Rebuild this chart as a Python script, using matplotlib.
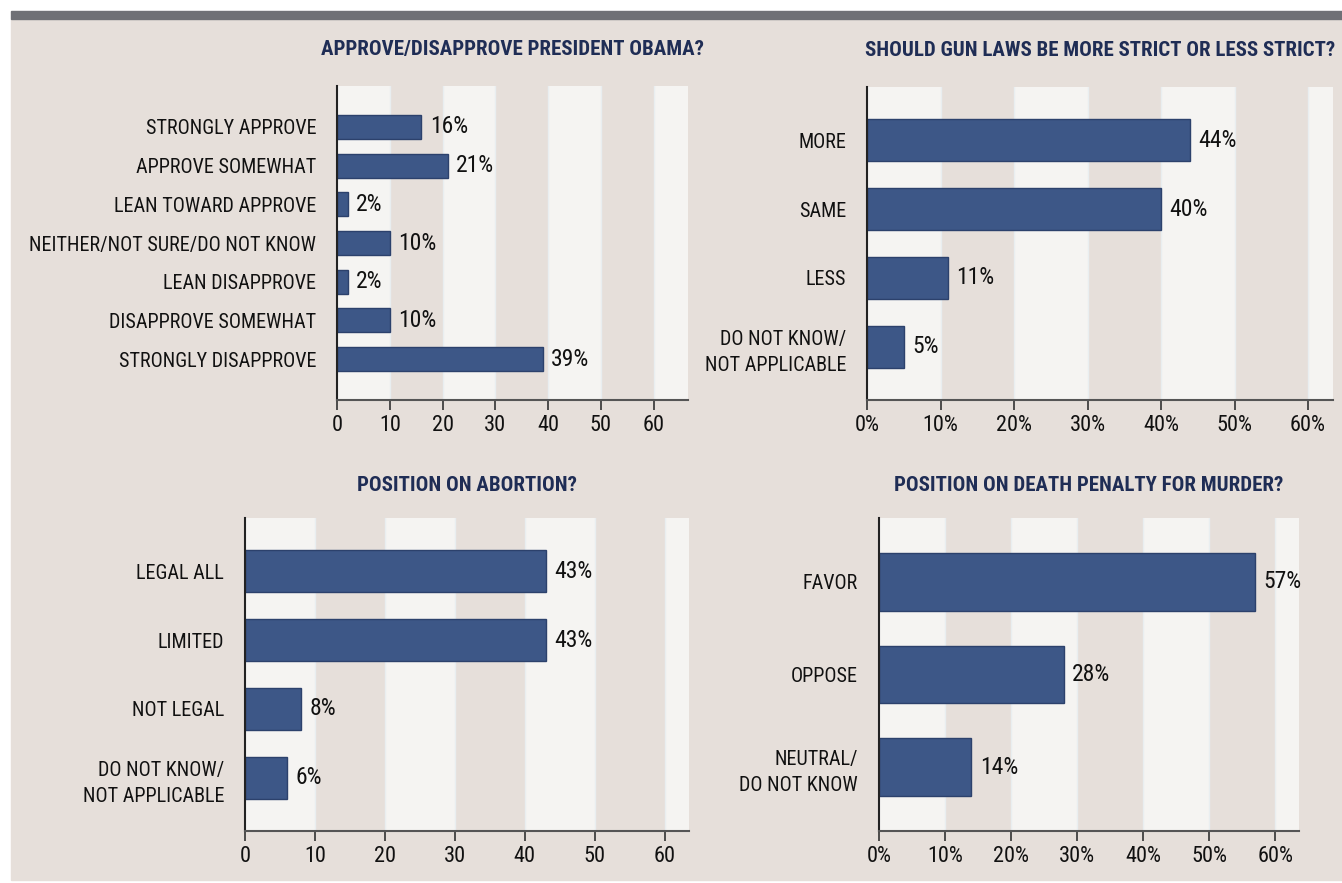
import numpy as np
import matplotlib.pyplot as plt
import matplotlib as mpl
from matplotlib import font_manager

# pick a narrow sans font if one is installed
names = set(f.name for f in font_manager.fontManager.ttflist)
narrow = "DejaVu Sans"
for cand in ["Liberation Sans Narrow", "Roboto Condensed", "DejaVu Sans Condensed", "Liberation Sans"]:
    if cand in names:
        narrow = cand
        break
mpl.rcParams['font.family'] = [narrow, 'DejaVu Sans']

# data
obama_cats = ["STRONGLY APPROVE", "APPROVE SOMEWHAT", "LEAN TOWARD APPROVE",
              "NEITHER/NOT SURE/DO NOT KNOW", "LEAN DISAPPROVE",
              "DISAPPROVE SOMEWHAT", "STRONGLY DISAPPROVE"]
obama_vals = [16, 21, 2, 10, 2, 10, 39]

gun_cats = ["MORE", "SAME", "LESS", "DO NOT KNOW/\nNOT APPLICABLE"]
gun_vals = [44, 40, 11, 5]

abortion_cats = ["LEGAL ALL", "LIMITED", "NOT LEGAL", "DO NOT KNOW/\nNOT APPLICABLE"]
abortion_vals = [43, 43, 8, 6]

death_cats = ["FAVOR", "OPPOSE", "NEUTRAL/\nDO NOT KNOW"]
death_vals = [57, 28, 14]

ticks = [0, 10, 20, 30, 40, 50, 60]

BEIGE = "#e6dfda"
LIGHT = "#f5f4f2"
BAR = "#3d5787"
EDGE = "#2c416c"
NAVY = "#1f2d55"

W, H = 1342, 883
fig = plt.figure(figsize=(W / 100, H / 100), dpi=100)
fig.patch.set_facecolor("white")
# beige panel and the gray strip on top
fig.patches.append(mpl.patches.Rectangle((11 / W, 3 / H), 1 - 11 / W, (H - 19 - 3) / H,
                                         transform=fig.transFigure, color=BEIGE, zorder=-2))
fig.patches.append(mpl.patches.Rectangle((11 / W, (H - 19) / H), 1 - 11 / W, 8 / H,
                                         transform=fig.transFigure, color="#6f7076", zorder=-2))


def panel(box, title, title_y, cats, vals, xmax, ypad, pct):
    l, t, r, b = box
    ax = fig.add_axes([l / W, 1 - b / H, (r - l) / W, (b - t) / H])
    ax.set_facecolor(LIGHT)
    n = len(cats)
    y = np.arange(n)
    # alternating bands: light 0-10, beige 10-20, ...
    for x0 in [10, 30, 50]:
        ax.axvspan(x0, x0 + 10, facecolor=BEIGE, lw=0, zorder=0)
    for x0 in range(10, 70, 10):
        ax.axvline(x0, color="#e9eef0", lw=1, zorder=0.5)
    ax.barh(y, vals, height=0.62, color=BAR, edgecolor=EDGE, lw=1, zorder=2)
    for yi, v in zip(y, vals):
        ax.annotate(f"{v}%", (v, yi), xytext=(6, 0), textcoords="offset points",
                    va="center", ha="left", fontsize=17, color="#111111")
    ax.set_xlim(0, xmax)
    ax.set_ylim(n - 1 + ypad, -ypad)
    ax.set_yticks(y, labels=cats)
    ax.tick_params(axis="y", length=0, pad=15, labelsize=14.5, labelcolor="#111111")
    ax.set_xticks(ticks, labels=[f"{t}%" if pct else str(t) for t in ticks])
    ax.tick_params(axis="x", length=7, width=1.2, color="#333333", pad=4,
                   labelsize=16, labelcolor="#111111")
    for s in ["top", "right"]:
        ax.spines[s].set_visible(False)
    ax.spines["left"].set_color("#222222")
    ax.spines["left"].set_linewidth(1.5)
    ax.spines["bottom"].set_color("#555555")
    ax.spines["bottom"].set_linewidth(1.5)
    for lab in ax.get_yticklabels():
        lab.set_multialignment("right")
        lab.set_linespacing(1.45)
    fig.text((l + r) / 2 / W, 1 - title_y / H, title, ha="center", va="center",
             fontsize=15, fontweight="bold", color=NAVY)
    return ax


panel((337, 86, 688, 400), "APPROVE/DISAPPROVE PRESIDENT OBAMA?", 50,
      obama_cats, obama_vals, 66.5, 1.06, False)
panel((867, 87, 1333, 400), "SHOULD GUN LAWS BE MORE STRICT OR LESS STRICT?", 50,
      gun_cats, gun_vals, 63.4, 0.77, True)
panel((245, 518, 689, 831), "POSITION ON ABORTION?", 485,
      abortion_cats, abortion_vals, 63.5, 0.77, False)
panel((879, 518, 1299, 831), "POSITION ON DEATH PENALTY FOR MURDER?", 485,
      death_cats, death_vals, 63.6, 0.69, True)

plt.savefig("out.png", dpi=100)
